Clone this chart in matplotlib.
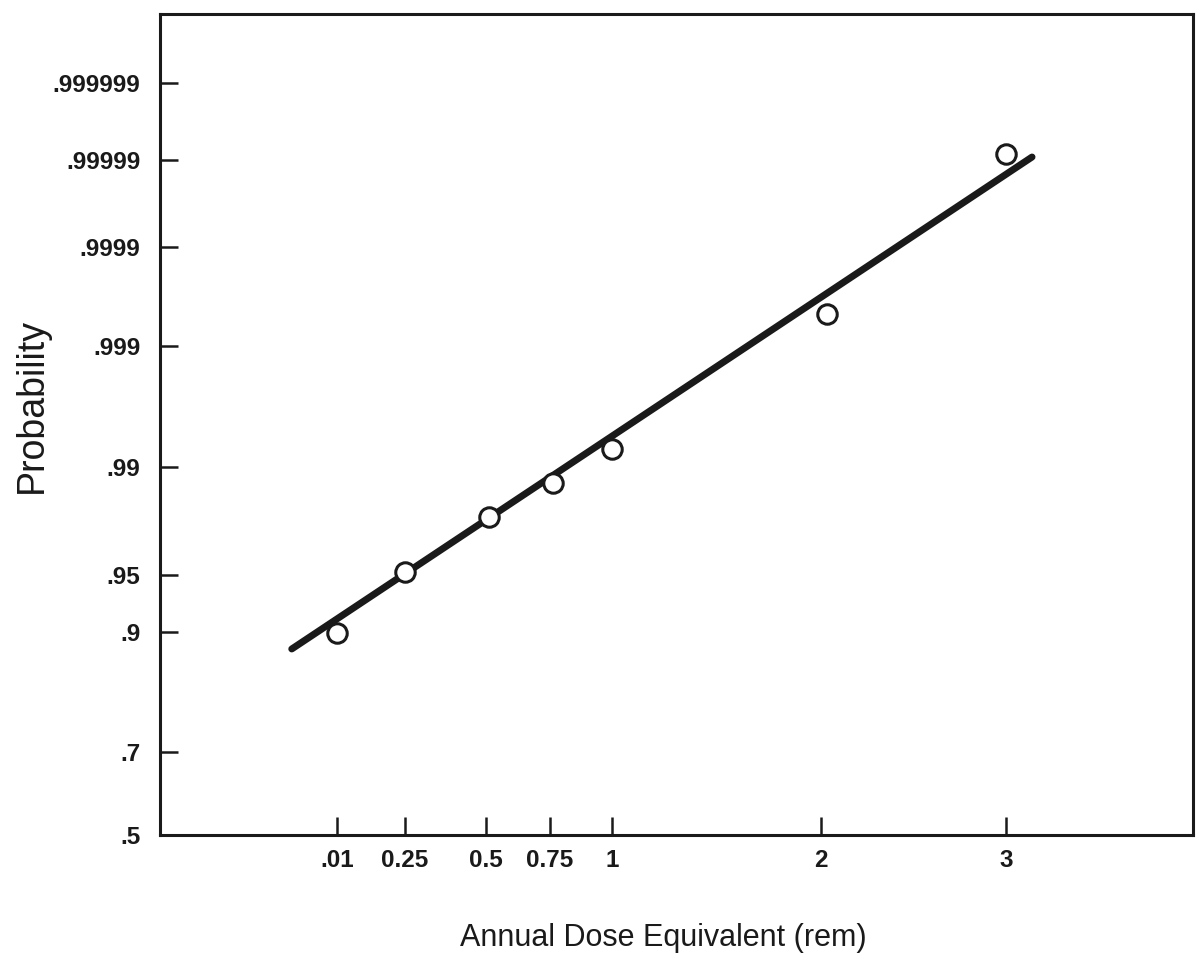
import matplotlib
matplotlib.use('Agg')
import matplotlib.pyplot as plt
import numpy as np
from statistics import NormalDist

# Data
dose = [0.01, 0.25, 0.51, 0.76, 1.0, 2.03, 3.0]
prob = [0.8992, 0.9518, 0.9778, 0.98696, 0.99266, 0.999504, 0.9999917]

# fitted straight line (end points)
fit_dose = [-0.15, 3.14]
fit_prob = [0.8802, 0.9999909]

x_ticks = [0.01, 0.25, 0.5, 0.75, 1, 2, 3]
x_labels = ['.01', '0.25', '0.5', '0.75', '1', '2', '3']
y_ticks = [0.5, 0.7, 0.9, 0.95, 0.99, 0.999, 0.9999, 0.99999, 0.999999]
y_labels = ['.5', '.7', '.9', '.95', '.99', '.999', '.9999', '.99999', '.999999']

# the dose axis is hand drawn: relative spacing of its tick marks
x_knots = np.array([0.01, 0.25, 0.5, 0.75, 1, 2, 3])
x_spacing = np.array([0, 68, 149, 213, 275, 484, 669], dtype=float)

ink = '#1a1a1a'
nd = NormalDist()


def piecewise(v, xs, ys):
    v = np.asarray(v, dtype=float)
    shape = v.shape
    v = np.atleast_1d(v).copy()
    out = np.interp(v, xs, ys)
    lo = v < xs[0]
    hi = v > xs[-1]
    out[lo] = ys[0] + (v[lo] - xs[0]) * (ys[1] - ys[0]) / (xs[1] - xs[0])
    out[hi] = ys[-1] + (v[hi] - xs[-1]) * (ys[-1] - ys[-2]) / (xs[-1] - xs[-2])
    return out.reshape(shape)


def dose_fwd(v):
    return piecewise(v, x_knots, x_spacing)


def dose_inv(v):
    return piecewise(v, x_spacing, x_knots)


def _ppf(p):
    if not np.isfinite(p):
        return np.nan
    p = min(max(p, 1e-12), 1 - 1e-12)
    return nd.inv_cdf(p)


def _cdf(z):
    if not np.isfinite(z):
        return np.nan
    return nd.cdf(z)


prob_fwd = np.vectorize(_ppf, otypes=[float])
prob_inv = np.vectorize(_cdf, otypes=[float])

plt.rcParams['font.family'] = ['Liberation Sans', 'DejaVu Sans']

fig = plt.figure(figsize=(11.96, 9.68), dpi=100)
ax = fig.add_axes([160 / 1196, 1 - 835 / 968, (1193 - 160) / 1196, (835 - 14) / 968])

# normal probability scale on y
ax.set_xscale('function', functions=(dose_fwd, dose_inv))
ax.set_yscale('function', functions=(prob_fwd, prob_inv))

ax.plot(fit_dose, fit_prob, color=ink, lw=5, solid_capstyle='round', zorder=2)
ax.plot(dose, prob, 'o', ms=14, mfc='white', mec=ink, mew=2.2, zorder=3)

ax.set_xlim(-0.615, 4.01)
ax.set_ylim(0.5, nd.cdf(5.19))

ax.set_xticks(x_ticks)
ax.set_xticklabels(x_labels, fontweight='bold')
ax.set_yticks(y_ticks)
ax.set_yticklabels(y_labels, fontweight='bold')
ax.minorticks_off()

ax.tick_params(direction='in', length=13, width=1.8, color=ink,
               labelsize=17.5, labelcolor=ink)
ax.tick_params(axis='y', pad=14)
ax.tick_params(axis='x', pad=10)

for s in ax.spines.values():
    s.set_linewidth(2.2)
    s.set_color(ink)

ax.set_xlabel('Annual Dose Equivalent (rem)', fontsize=22, color=ink, va='center')
ax.xaxis.set_label_coords(0.487, -0.125)
ax.set_ylabel('Probability', fontsize=27, color=ink, va='center')
ax.yaxis.set_label_coords(-0.124, 0.523)

fig.savefig('out.png', dpi=100, facecolor='white')
